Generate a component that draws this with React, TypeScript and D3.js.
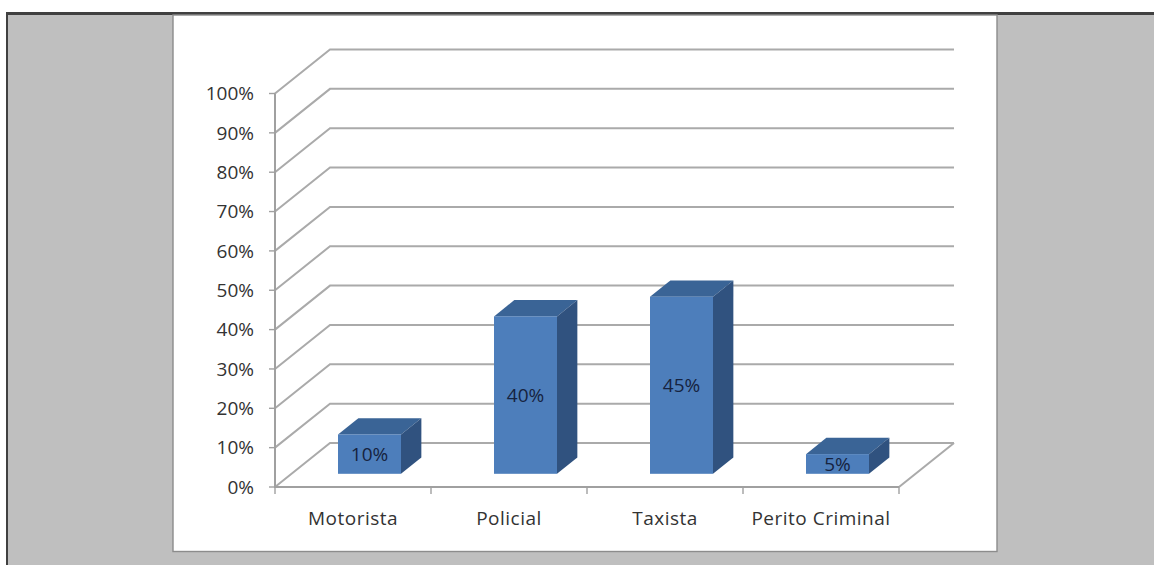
import React from "react";
import * as d3 from "d3";

const categories = ["Motorista", "Policial", "Taxista", "Perito Criminal"];
const shares = [10, 40, 45, 5];
const yTicks = [0, 10, 20, 30, 40, 50, 60, 70, 80, 90, 100];

const FONT = "'Open Sans', 'Noto Sans', sans-serif";
const GRID = "#aaaaaa";
const AXIS = "#a0a0a0";
const TEXT = "#333333";

// Plot frame: the front plane of the 3D box and the shift towards its back wall.
const x0 = 275;
const x1 = 899;
const y0 = 487;
const y1 = 93.5;
const depthX = 55;
const depthY = -44;

const xScale = d3.scaleBand<string>().domain(categories).range([x0, x1]);
const yScale = d3.scaleLinear().domain([0, 100]).range([y0, y1]);
const depth = (t: number) => ({ dx: depthX * t, dy: depthY * t });

const BAR_WIDTH = 63;
const BAR_NEAR = 0.3;
const BAR_FAR = 0.67;

function Bar({ name, value }: { name: string; value: number }) {
  const near = depth(BAR_NEAR);
  const far = depth(BAR_FAR);
  const cx = xScale(name)! + xScale.bandwidth() / 2 + near.dx;
  const left = cx - BAR_WIDTH / 2;
  const right = cx + BAR_WIDTH / 2;
  const top = yScale(value) + near.dy;
  const bottom = yScale(0) + near.dy;
  const shiftX = far.dx - near.dx;
  const shiftY = far.dy - near.dy;
  const poly = (pts: [number, number][]) => pts.map((p) => p.join(",")).join(" ");
  return (
    <g>
      <polygon
        fill="#3a6496"
        points={poly([
          [left, top],
          [left + shiftX, top + shiftY],
          [right + shiftX, top + shiftY],
          [right, top],
        ])}
      />
      <polygon
        fill="#30527f"
        points={poly([
          [right, top],
          [right + shiftX, top + shiftY],
          [right + shiftX, bottom + shiftY],
          [right, bottom],
        ])}
      />
      <rect x={left} y={top} width={BAR_WIDTH} height={bottom - top} fill="#4d7ebb" />
      <text
        x={cx}
        y={(top + bottom) / 2}
        dy="0.35em"
        textAnchor="middle"
        fontFamily={FONT}
        fontSize={19}
        fill="#16233f"
      >
        {value}%
      </text>
    </g>
  );
}

export default function App() {
  const back = depth(1);
  return (
    <svg
      width={1154}
      height={565}
      style={{ position: "absolute", left: 0, top: 0, display: "block" }}
    >
      <rect x={0} y={0} width={1154} height={565} fill="#ffffff" />
      <rect x={6} y={12} width={1148} height={553} fill="#404040" />
      <rect x={8} y={15} width={1146} height={550} fill="#bfbfbf" />
      <rect x={173} y={15} width={824} height={536.5} fill="#ffffff" stroke="#8c8c8c" strokeWidth={1.4} />

      {/* Gridlines run along the side wall and across the back wall */}
      {yTicks.map((t) => (
        <path
          key={t}
          d={`M${x0},${yScale(t)}L${x0 + back.dx},${yScale(t) + back.dy}H${x1 + back.dx}`}
          fill="none"
          stroke={GRID}
          strokeWidth={2}
        />
      ))}
      <path
        d={`M${x1},${y0}L${x1 + back.dx},${y0 + back.dy}`}
        fill="none"
        stroke={GRID}
        strokeWidth={2}
      />

      {/* Axes */}
      <path d={`M${x0},${y1}V${y0}H${x1}`} fill="none" stroke={AXIS} strokeWidth={2} />
      {yTicks.map((t) => (
        <g key={t}>
          <line x1={x0 - 6} x2={x0} y1={yScale(t)} y2={yScale(t)} stroke={AXIS} strokeWidth={1.4} />
          <text
            x={254}
            y={yScale(t)}
            dy="0.35em"
            textAnchor="end"
            fontFamily={FONT}
            fontSize={19}
            fill={TEXT}
          >
            {t}%
          </text>
        </g>
      ))}
      {[...categories.map((c) => xScale(c)!), x1].map((x) => (
        <line key={x} x1={x} x2={x} y1={y0} y2={y0 + 7} stroke={AXIS} strokeWidth={1.4} />
      ))}
      {categories.map((c) => (
        <text
          key={c}
          x={xScale(c)! + xScale.bandwidth() / 2}
          y={518}
          dy="0.35em"
          textAnchor="middle"
          fontFamily={FONT}
          fontSize={19}
          letterSpacing={0.5}
          fill={TEXT}
        >
          {c}
        </text>
      ))}

      {categories.map((c, i) => (
        <Bar key={c} name={c} value={shares[i]} />
      ))}
    </svg>
  );
}
